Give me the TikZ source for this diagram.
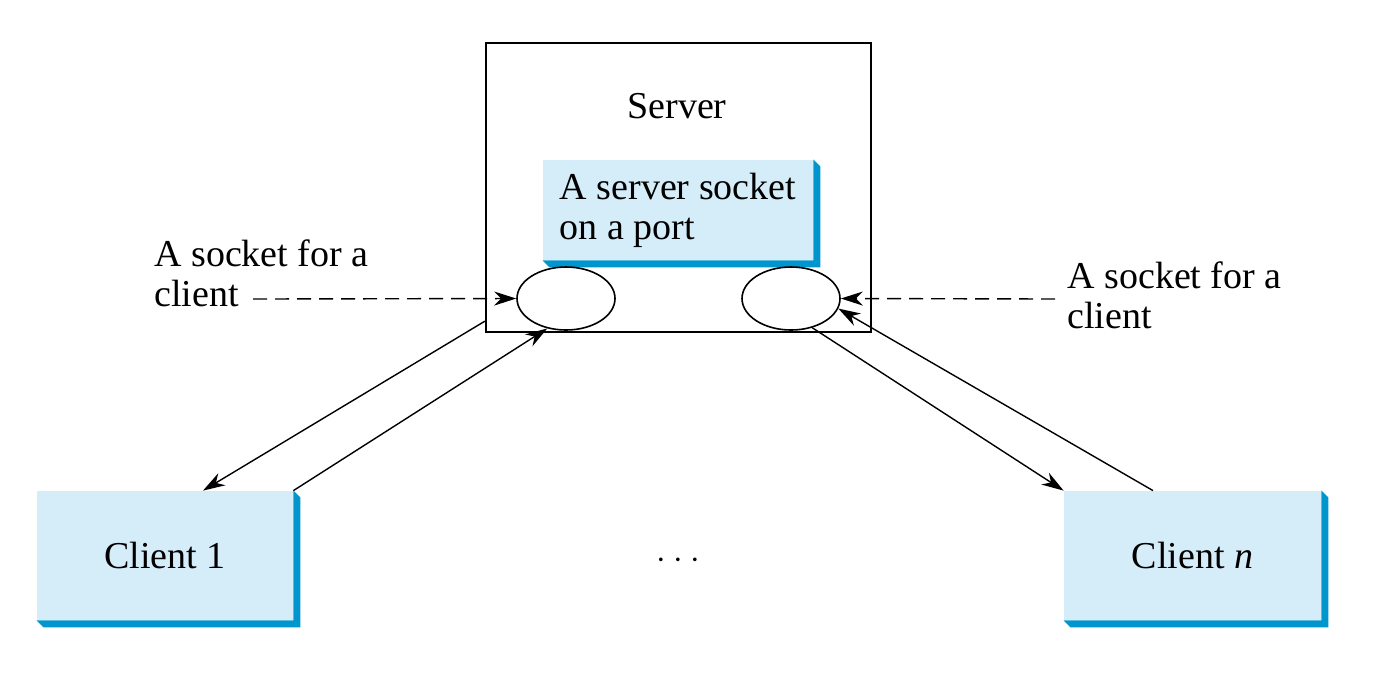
\documentclass[tikz,border=0pt]{standalone}
\usepackage{fontspec}
\setmainfont{Liberation Serif}
\usetikzlibrary{arrows.meta,shapes.geometric}
\definecolor{cbfill}{RGB}{213,237,249}
\definecolor{cbshade}{RGB}{0,150,205}
\newcommand{\boxshade}[1]{%
  \fill[cbshade] (#1.north east) -- ([shift={(3.5pt,-3.5pt)}]#1.north east)
    -- ([shift={(3.5pt,-3.5pt)}]#1.south east) -- ([shift={(3.5pt,-3.5pt)}]#1.south west)
    -- (#1.south west) -- (#1.south east) -- cycle;}

\begin{document}
\begin{tikzpicture}[x=0.5pt,y=-0.5pt,
      every node/.style={font=\fontsize{19}{20}\selectfont},
      bluebox/.style={fill=cbfill,inner sep=0pt,align=left},
      sock/.style={draw,ellipse,line width=0.8pt,minimum width=49pt,minimum height=31.5pt,inner sep=0pt},
      sidelab/.style={align=left,inner sep=0pt,anchor=north west},
      arr/.style={-{Stealth[length=11pt,width=7pt,inset=3.5pt]},line width=0.7pt},
      dasharr/.style={arr,dash pattern=on 7pt off 4pt}]
    \useasboundingbox (0,0) rectangle (1374,682);
    % server
    \node[draw,line width=1.2pt,minimum width=192.5pt,minimum height=144.5pt,inner sep=0pt] (srv) at (678.5,187.5) {};
    \node[anchor=base] (srvlab) at (677,118) {Server};
    \node[bluebox,minimum width=135pt,minimum height=50pt] (ssock) at (678,210) {A server socket\\on a port};
    \boxshade{ssock}
    \node[sock] (lsock) at (566,298.5) {};
    \node[sock] (rsock) at (791,298.5) {};
    % clients
    \node[bluebox,minimum width=128pt,minimum height=64.5pt] (cl1) at (165,555.5) {Client 1};
    \boxshade{cl1}
    \node[bluebox,minimum width=128.5pt,minimum height=64.5pt] (cln) at (1192.5,555.5) {Client \textit{n}};
    \boxshade{cln}
    \node[anchor=base] (dots) at (678.5,568) {${\cdot}\mkern4mu{\cdot}\mkern4mu{\cdot}$};
    % labels
    \node[sidelab] (llab) at (154,239) {A socket for a\\client};
    \node[sidelab] (rlab) at (1067,261) {A socket for a\\client};
    \coordinate (ldash) at (253,299);
    \coordinate (rdash) at (1055,299);
    \draw[dasharr] (ldash) -- (lsock.west);
    \draw[dasharr] (rdash) -- (rsock.east);
    % connections
    \draw[arr] ([yshift=6pt]srv.south west) -- ([xshift=19pt]cl1.north);
    \draw[arr] (cl1.north east) -- (lsock.-122);
    \draw[arr] (rsock.-54) -- (cln.north west);
    \draw[arr] ([xshift=-19.75pt]cln.north) -- (rsock.-12);
\end{tikzpicture}
\end{document}
